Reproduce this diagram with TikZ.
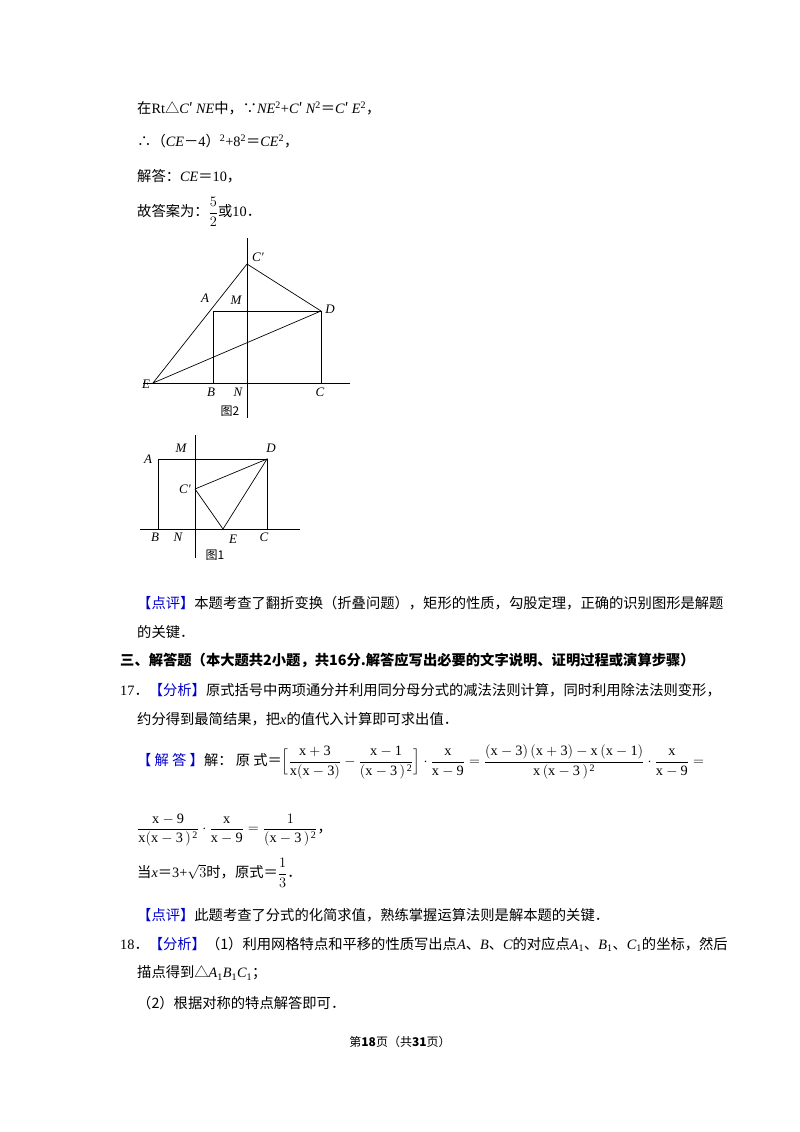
\documentclass[tikz,border=0pt]{standalone}
\usepackage{amsmath}
\usepackage{fontspec}
\setmainfont{Liberation Serif}
\newfontfamily\cj{Noto Sans CJK SC}
\newfontfamily\lser{Liberation Serif}
\newcommand{\dt}{\mathbin{\cdot}}
\newcommand{\vv}[1]{{\lser\itshape #1}}
\newcommand{\rr}[1]{{\lser #1}}
\begin{document}
\begin{tikzpicture}[x=1pt,y=-1pt,
  t/.style={anchor=west,inner sep=0pt,font=\cj\fontsize{14.3}{17}\selectfont},
  lb/.style={inner sep=0pt,font=\lser\itshape\fontsize{13}{14}\selectfont},
  fl/.style={line width=0.7pt}]
\useasboundingbox (0,0) rectangle (800,1132);
\fill[white] (0,0) rectangle (800,1132);
% text top
\node[t] (l1) at (137,108) {在\rr{Rt}△\vv{C}′ \vv{NE}中，∵\vv{NE}\rr{\textsuperscript{2}+}\vv{C}′ \vv{N}\rr{\textsuperscript{2}}＝\vv{C}′ \vv{E}\rr{\textsuperscript{2}}，};
\node[t] (l2) at (137,141) {∴（\vv{CE}－\rr{4}）\rr{\textsuperscript{2}+8\textsuperscript{2}}＝\vv{CE}\rr{\textsuperscript{2}}，};
\node[t] (l3) at (137,176) {解答：\vv{CE}＝\rr{10}，};
\node[t] (l4) at (137,212) {故答案为：$\dfrac{5}{2}$或\rr{10}．};
% figure 2
\coordinate (Cp) at (247,264); \coordinate (D) at (321,311);
\coordinate (Ar) at (213,311); \coordinate (E) at (153,383);
\coordinate (B) at (213,383); \coordinate (C) at (321,383);
\draw[fl] (247,238) -- (247,418);
\draw[fl] (143,383) -- (350,383);
\draw[fl] (B) -- (Ar) -- (D) -- (C);
\draw[fl] (E) -- (Cp) -- (D) -- (E);
\node[lb] (la) at (205,298) {A};
\node[lb] (lm) at (236,300) {M};
\node[lb] (ld) at (330,309) {D};
\node[lb] (lc) at (258,257) {C′};
\node[lb] (le) at (146,384) {E};
\node[lb] (lb2) at (211,392) {B};
\node[lb] (ln) at (238,392) {N};
\node[lb] (lcc) at (320,392) {C};
\node[inner sep=0pt,font=\cj\fontsize{12}{14}\selectfont] (f2) at (230,411) {图2};
% figure 1
\coordinate (A1) at (158,459); \coordinate (D1) at (267,459);
\coordinate (B1) at (158,529); \coordinate (C1) at (267,529);
\coordinate (P1) at (195,489); \coordinate (E1) at (223,529);
\draw[fl] (195,435) -- (195,558);
\draw[fl] (140,529) -- (300,529);
\draw[fl] (B1) -- (A1) -- (D1) -- (C1);
\draw[fl] (P1) -- (D1) -- (E1) -- (P1);
\node[lb] (a1) at (148,459) {A};
\node[lb] (m1) at (181,448) {M};
\node[lb] (d1) at (271,448) {D};
\node[lb] (c1) at (185,489) {C′};
\node[lb] (b1) at (155,537) {B};
\node[lb] (n1) at (178,537) {N};
\node[lb] (e1) at (233,539) {E};
\node[lb] (cc1) at (264,537) {C};
\node[inner sep=0pt,font=\cj\fontsize{12}{14}\selectfont] (f1) at (215,555) {图1};
% lower text
\node[t] (p1) at (137,603) {{\color{blue!80!black}【点评】}本题考查了翻折变换（折叠问题），矩形的性质，勾股定理，正确的识别图形是解题};
\node[t] (p2) at (137,632) {的关键．};
\node[t] (h3) at (120,660) {\bfseries 三、解答题（本大题共2小题，共16分.解答应写出必要的文字说明、证明过程或演算步骤）};
\node[t] (q1) at (120,690) {\rr{17}．{\color{blue!80!black}【分析】}原式括号中两项通分并利用同分母分式的减法法则计算，同时利用除法法则变形，};
\node[t] (q2) at (137,719) {约分得到最简结果，把\vv{x}的值代入计算即可求出值．};
\node[t] (q3) at (137,762) {{\color{blue!80!black}【 解 答 】}解： 原 式＝$\Big[\dfrac{\mathrm{x+3}}{\mathrm{x(x-3)}}-\dfrac{\mathrm{x-1}}{\mathrm{(x-3\,)^{\,2}}}\Big]\dt\dfrac{\mathrm{x}}{\mathrm{x-9}}=\dfrac{\mathrm{(x-3)\,(x+3)-x\,(x-1)}}{\mathrm{x\,(x-3\,)^{\,2}}}\dt\dfrac{\mathrm{x}}{\mathrm{x-9}}=$};
\node[t] (q4) at (137,830) {$\dfrac{\mathrm{x-9}}{\mathrm{x(x-3\,)^{\,2}}}\dt\dfrac{\mathrm{x}}{\mathrm{x-9}}=\dfrac{1}{\mathrm{(x-3\,)^{\,2}}}$，};
\node[t] (q5) at (137,873) {当\vv{x}＝\rr{3+}$\sqrt{3}$时，原式＝$\dfrac{1}{3}$．};
\node[t] (q6) at (137,915) {{\color{blue!80!black}【点评】}此题考查了分式的化简求值，熟练掌握运算法则是解本题的关键．};
\node[t] (r1) at (120,944) {\rr{18}．{\color{blue!80!black}【分析】}（1）利用网格特点和平移的性质写出点\vv{A}、\vv{B}、\vv{C}的对应点\vv{A}\rr{\textsubscript{1}}、\vv{B}\rr{\textsubscript{1}}、\vv{C}\rr{\textsubscript{1}}的坐标，然后};
\node[t] (r2) at (137,973) {描点得到△\vv{A}\rr{\textsubscript{1}}\vv{B}\rr{\textsubscript{1}}\vv{C}\rr{\textsubscript{1}}；};
\node[t] (r3) at (137,1003) {（2）根据对称的特点解答即可．};
\node[inner sep=0pt,font=\cj\fontsize{12}{14}\selectfont] (ft) at (400,1042) {第\textbf{18}页（共\textbf{31}页）};
\end{tikzpicture}
\end{document}
